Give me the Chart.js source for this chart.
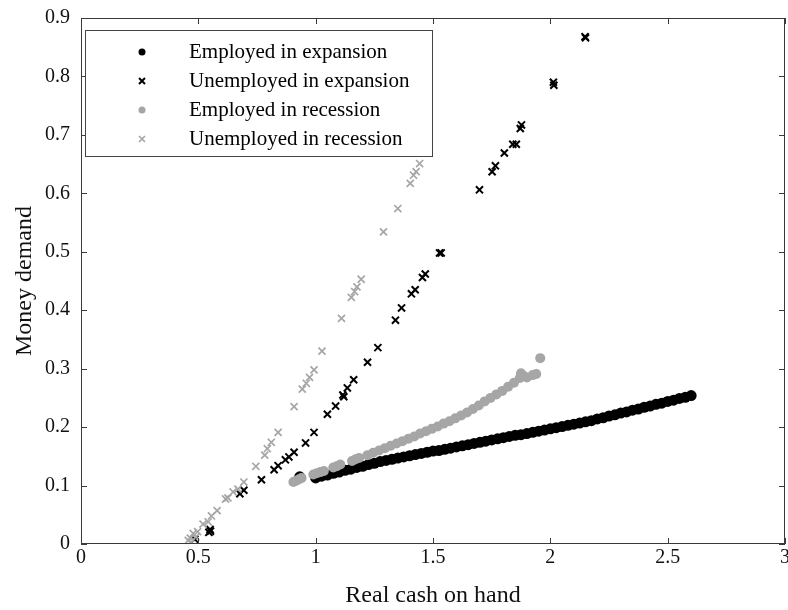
<!DOCTYPE html>
<html>
<head>
<meta charset="utf-8">
<title>Money demand</title>
<script src="https://cdn.jsdelivr.net/npm/chart.js@4.4.0/dist/chart.umd.min.js"></script>
<style>
  html, body { margin: 0; padding: 0; background: #fff; }
  #wrap { width: 788px; height: 610px; }
</style>
</head>
<body>
<div id="wrap"><canvas id="Graph" width="788" height="610"></canvas></div>
<script>
// axis ticks
const xTicks = [0, 0.5, 1, 1.5, 2, 2.5, 3];
const yTicks = [0, 0.1, 0.2, 0.3, 0.4, 0.5, 0.6, 0.7, 0.8, 0.9];

// Employed in expansion (black dots)
const empExpX = [1.00, 1.025, 1.05, 1.075, 1.10, 1.125, 1.15, 1.175, 1.20, 1.225, 1.25, 1.275, 1.30, 1.325, 1.35, 1.375, 1.40, 1.425, 1.45, 1.475,
  1.50, 1.525, 1.55, 1.575, 1.60, 1.625, 1.65, 1.675, 1.70, 1.725, 1.75, 1.775, 1.80, 1.825, 1.85, 1.875, 1.90, 1.925, 1.95, 1.975,
  2.00, 2.025, 2.05, 2.075, 2.10, 2.125, 2.15, 2.175, 2.20, 2.225, 2.25, 2.275, 2.30, 2.325, 2.35, 2.375, 2.40, 2.425, 2.45, 2.475,
  2.50, 2.525, 2.55, 2.575, 2.60, 0.932];
const empExpY = [0.113, 0.116, 0.118, 0.121, 0.123, 0.126, 0.128, 0.131, 0.133, 0.136, 0.138, 0.141, 0.143, 0.145, 0.147, 0.149, 0.151, 0.153, 0.155, 0.157,
  0.159, 0.160, 0.162, 0.164, 0.166, 0.168, 0.170, 0.172, 0.174, 0.176, 0.178, 0.180, 0.182, 0.184, 0.186, 0.187, 0.189, 0.191, 0.193, 0.195,
  0.197, 0.199, 0.201, 0.203, 0.205, 0.207, 0.209, 0.211, 0.214, 0.216, 0.219, 0.221, 0.224, 0.226, 0.229, 0.231, 0.234, 0.236, 0.239, 0.241,
  0.244, 0.246, 0.249, 0.251, 0.254, 0.115];

// Unemployed in expansion (black crosses)
const unempExpX = [0.485, 0.545, 0.550, 0.552, 0.677, 0.694, 0.769, 0.823, 0.840, 0.871, 0.886, 0.908, 0.957, 0.993, 1.050, 1.085,
  1.116, 1.120, 1.135, 1.162, 1.221, 1.265, 1.340, 1.366, 1.408, 1.424, 1.455, 1.467, 1.528, 1.535, 1.698, 1.752, 1.766,
  1.804, 1.840, 1.855, 1.872, 1.877, 2.013, 2.015, 2.148, 2.150];
const unempExpY = [0.008, 0.020, 0.025, 0.022, 0.086, 0.092, 0.110, 0.127, 0.134, 0.144, 0.149, 0.157, 0.173, 0.191, 0.222, 0.236,
  0.255, 0.252, 0.267, 0.281, 0.311, 0.336, 0.383, 0.404, 0.428, 0.435, 0.456, 0.462, 0.498, 0.498, 0.606, 0.637, 0.647,
  0.669, 0.684, 0.684, 0.711, 0.717, 0.790, 0.785, 0.868, 0.866];

// Employed in recession (grey dots)
const empRecX = [0.905, 0.915, 0.930, 0.940, 0.990, 1.005, 1.020, 1.035, 1.075, 1.090, 1.105, 1.155, 1.170, 1.185,
  1.22, 1.245, 1.27, 1.295, 1.32, 1.345, 1.37, 1.395, 1.42, 1.445, 1.47, 1.495, 1.52, 1.545, 1.57, 1.595, 1.62, 1.645,
  1.67, 1.695, 1.72, 1.745, 1.77, 1.795, 1.82, 1.845, 1.87, 1.875, 1.885, 1.90, 1.925, 1.94, 1.957];
const empRecY = [0.106, 0.108, 0.111, 0.113, 0.119, 0.121, 0.123, 0.125, 0.131, 0.133, 0.136, 0.142, 0.145, 0.147,
  0.152, 0.156, 0.160, 0.164, 0.168, 0.172, 0.176, 0.180, 0.184, 0.189, 0.193, 0.197, 0.201, 0.206, 0.210, 0.215, 0.220, 0.225,
  0.231, 0.237, 0.244, 0.250, 0.256, 0.262, 0.269, 0.276, 0.284, 0.292, 0.288, 0.285, 0.289, 0.291, 0.318];

// Unemployed in recession (grey crosses)
const unempRecX = [0.457, 0.466, 0.470, 0.478, 0.490, 0.497, 0.520, 0.542, 0.556, 0.580, 0.616, 0.626, 0.648, 0.669, 0.694,
  0.745, 0.783, 0.794, 0.811, 0.840, 0.908, 0.943, 0.960, 0.974, 0.993, 1.027, 1.110, 1.152, 1.166, 1.176, 1.194,
  1.289, 1.350, 1.403, 1.417, 1.428, 1.443];
const unempRecY = [0.006, 0.010, 0.003, 0.018, 0.012, 0.021, 0.034, 0.038, 0.048, 0.057, 0.077, 0.079, 0.089, 0.094, 0.106,
  0.133, 0.152, 0.163, 0.174, 0.191, 0.235, 0.265, 0.275, 0.285, 0.298, 0.330, 0.386, 0.422, 0.432, 0.440, 0.453,
  0.534, 0.574, 0.617, 0.631, 0.637, 0.651];

const BLACK = '#000000';
const GREY = '#a6a6a6';
const FONT = "'Liberation Serif', 'Times New Roman', serif";

function toPoints(xs, ys) {
  return xs.map((x, i) => ({ x: x, y: ys[i] }));
}

// frame with inward ticks on all four sides (matlab style box)
const frameBox = {
  id: 'frameBox',
  afterDraw(chart) {
    const { ctx, chartArea: a, scales } = chart;
    const tl = 6;
    ctx.save();
    ctx.strokeStyle = '#3a3a3a';
    ctx.lineWidth = 1;
    ctx.strokeRect(a.left + 0.5, a.top + 0.5, a.right - a.left - 1, a.bottom - a.top - 1);
    ctx.beginPath();
    xTicks.forEach(v => {
      const px = Math.round(scales.x.getPixelForValue(v)) + 0.5;
      ctx.moveTo(px, a.bottom); ctx.lineTo(px, a.bottom - tl);
      ctx.moveTo(px, a.top); ctx.lineTo(px, a.top + tl);
    });
    yTicks.forEach(v => {
      const py = Math.round(scales.y.getPixelForValue(v)) + 0.5;
      ctx.moveTo(a.left, py); ctx.lineTo(a.left + tl, py);
      ctx.moveTo(a.right, py); ctx.lineTo(a.right - tl, py);
    });
    ctx.stroke();
    ctx.restore();
  }
};

// boxed legend in the upper left of the plot
const legendBox = {
  id: 'legendBox',
  afterDraw(chart) {
    const ctx = chart.ctx;
    ctx.save();
    ctx.fillStyle = '#fff';
    ctx.fillRect(85.5, 30.5, 347, 126);
    ctx.strokeStyle = '#444';
    ctx.lineWidth = 1;
    ctx.strokeRect(85.5, 30.5, 347, 126);
    chart.data.datasets.forEach((ds, i) => {
      const y = 52 + i * 29;
      const x = 142;
      if (ds.pointStyle === 'circle') {
        ctx.fillStyle = ds.backgroundColor;
        ctx.beginPath();
        ctx.arc(x, y, 3.5, 0, Math.PI * 2);
        ctx.fill();
      } else {
        ctx.strokeStyle = ds.borderColor;
        ctx.lineWidth = ds.borderWidth;
        ctx.beginPath();
        ctx.moveTo(x - 3, y - 3); ctx.lineTo(x + 3, y + 3);
        ctx.moveTo(x - 3, y + 3); ctx.lineTo(x + 3, y - 3);
        ctx.stroke();
      }
      ctx.fillStyle = '#000';
      ctx.font = '21px ' + FONT;
      ctx.textBaseline = 'middle';
      ctx.textAlign = 'left';
      ctx.fillText(ds.label, 189, y);
    });
    ctx.restore();
  }
};

const ctx = document.getElementById('Graph').getContext('2d');
const chart = new Chart(ctx, {
  type: 'scatter',
  data: {
    datasets: [
      {
        label: 'Employed in expansion',
        data: toPoints(empExpX, empExpY),
        pointStyle: 'circle',
        backgroundColor: BLACK,
        borderColor: BLACK,
        borderWidth: 0,
        pointRadius: 5.5,
        order: 4
      },
      {
        label: 'Unemployed in expansion',
        data: toPoints(unempExpX, unempExpY),
        pointStyle: 'crossRot',
        backgroundColor: BLACK,
        borderColor: BLACK,
        borderWidth: 2,
        pointRadius: 5,
        order: 3
      },
      {
        label: 'Employed in recession',
        data: toPoints(empRecX, empRecY),
        pointStyle: 'circle',
        backgroundColor: GREY,
        borderColor: GREY,
        borderWidth: 0,
        pointRadius: 5,
        order: 2
      },
      {
        label: 'Unemployed in recession',
        data: toPoints(unempRecX, unempRecY),
        pointStyle: 'crossRot',
        backgroundColor: GREY,
        borderColor: GREY,
        borderWidth: 1.7,
        pointRadius: 5,
        order: 1
      }
    ]
  },
  options: {
    responsive: false,
    animation: false,
    layout: { autoPadding: false, padding: { top: 18, right: 3, left: 0, bottom: 0 } },
    plugins: {
      legend: { display: false },
      tooltip: { enabled: false }
    },
    scales: {
      x: {
        type: 'linear',
        min: 0,
        max: 3,
        grid: { display: false, drawTicks: false },
        border: { display: false },
        afterBuildTicks: s => { s.ticks = xTicks.map(v => ({ value: v })); },
        afterFit: s => { s.height = 66; s.paddingLeft = 0; s.paddingRight = 0; },
        ticks: {
          font: { family: FONT, size: 20 }, color: '#111', padding: 2, maxRotation: 0,
          callback: v => String(v)
        },
        title: { display: true, text: 'Real cash on hand', font: { family: FONT, size: 24 }, color: '#111', padding: { top: 0, bottom: 0 } }
      },
      y: {
        type: 'linear',
        min: 0,
        max: 0.9,
        grid: { display: false, drawTicks: false },
        border: { display: false },
        afterBuildTicks: s => { s.ticks = yTicks.map(v => ({ value: v })); },
        afterFit: s => { s.width = 81; s.paddingTop = 0; s.paddingBottom = 0; },
        ticks: {
          font: { family: FONT, size: 20 }, color: '#111', padding: 11,
          callback: v => String(v)
        },
        title: { display: true, text: 'Money demand', font: { family: FONT, size: 24 }, color: '#111', padding: { top: 10, bottom: 0 } }
      }
    }
  },
  plugins: [frameBox, legendBox]
});
</script>
</body>
</html>
